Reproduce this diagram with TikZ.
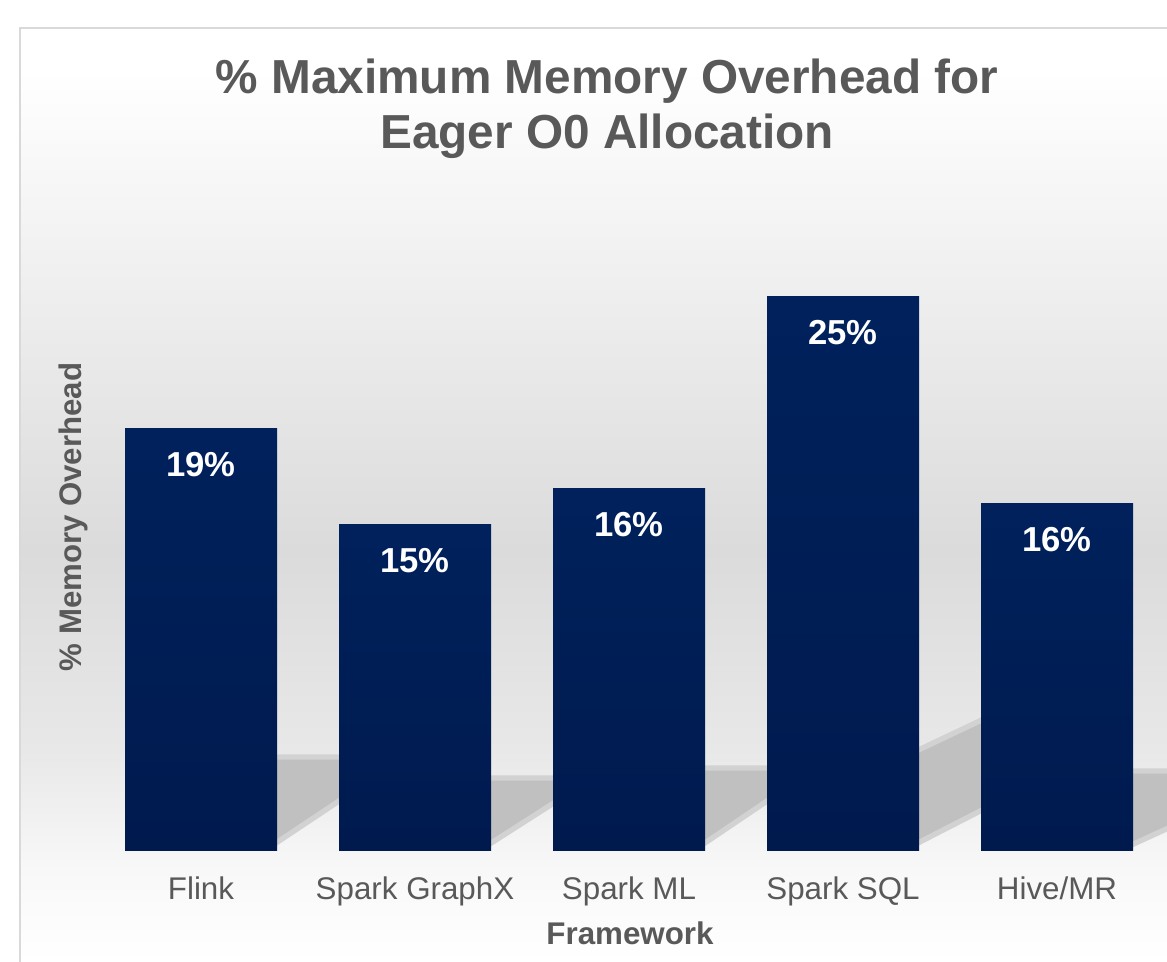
\documentclass[tikz,border=0pt]{standalone}
\usepackage{fontspec}
\setmainfont{Liberation Sans}
\usepackage{xcolor}
\usetikzlibrary{positioning}

\definecolor{barnavy}{HTML}{001D56}
\definecolor{barnavytop}{HTML}{00215C}
\definecolor{barnavybot}{HTML}{001A4E}
\definecolor{textgray}{HTML}{595959}
\definecolor{framegray}{HTML}{D9D9D9}
\definecolor{floorgray}{HTML}{C0C0C0}
\definecolor{bgmid}{HTML}{DBDBDB}
\definecolor{bglow}{HTML}{E8E8E8}
\definecolor{bgfloor}{HTML}{F8F8F8}

\begin{document}
\begin{tikzpicture}[x=0.75pt,y=-0.75pt]
\tikzset{framebar/.style={rectangle,inner sep=0pt,minimum width=114pt,anchor=south,top color=barnavytop,bottom color=barnavybot},
  vallabel/.style={anchor=base,text=white,font=\fontsize{26}{30}\selectfont\bfseries},
  catlabel/.style={anchor=base,text=textgray,font=\fontsize{23.5}{28}\selectfont},
  axislabel/.style={text=textgray,font=\fontsize{23.5}{28}\selectfont\bfseries},
  shadowfloor/.style={fill=floorgray,draw=floorgray!55!bglow,line width=4pt,line join=round}}
\useasboundingbox (0,0) rectangle (1167,962);
\fill[white] (0,0) rectangle (1167,962);
% background of the chart area
\fill[white] (20,28) rectangle (1167,70);
\shade[top color=white,bottom color=bgmid] (20,70) rectangle (1167,550);
\shade[top color=bgmid,bottom color=bglow] (20,550) rectangle (1167,750);
\shade[top color=bglow,bottom color=bgfloor] (20,750) rectangle (1167,870);
\shade[top color=bgfloor,bottom color=white] (20,870) rectangle (1167,962);
% floor shadows between the bars
\filldraw[shadowfloor] (270,757) -- (345,757) -- (345,797) -- (270,847) -- cycle;
\filldraw[shadowfloor] (485,778) -- (560,778) -- (560,799) -- (485,847) -- cycle;
\filldraw[shadowfloor] (699,768) -- (773,768) -- (773,797) -- (699,847) -- cycle;
\filldraw[shadowfloor] (912,753) -- (986,718) -- (986,808) -- (912,846) -- cycle;
\filldraw[shadowfloor] (1127,771) -- (1175,771) -- (1175,825) -- (1127,847) -- cycle;
% frame
\draw[framegray,line width=1.5pt] (20,962) -- (20,28) -- (1167,28);

% title
\node[text=textgray,font=\fontsize{35.8}{41.25}\selectfont\bfseries,align=center] (title) at (607,109) {\% Maximum Memory Overhead for\\Eager O0 Allocation};

% bars
\node[framebar,minimum height=316.5pt] (flink) at (201,851) {};
\node[framebar,minimum height=244.5pt] (graphx) at (415,851) {};
\node[framebar,minimum height=271.5pt] (sparkml) at (629,851) {};
\node[framebar,minimum height=415.5pt] (sparksql) at (843,851) {};
\node[framebar,minimum height=260.25pt] (hivemr) at (1057,851) {};

% values
\node[vallabel] (flinkval) at ([yshift=-36pt]flink.north) {19\%};
\node[vallabel] (graphxval) at ([yshift=-36pt]graphx.north) {15\%};
\node[vallabel] (sparkmlval) at ([yshift=-36pt]sparkml.north) {16\%};
\node[vallabel] (sparksqlval) at ([yshift=-36pt]sparksql.north) {25\%};
\node[vallabel] (hivemrval) at ([yshift=-36pt]hivemr.north) {16\%};

% categories
\node[catlabel] (flinkcat) at ([yshift=-36pt]flink.south) {Flink};
\node[catlabel] (graphxcat) at ([yshift=-36pt]graphx.south) {Spark GraphX};
\node[catlabel] (sparkmlcat) at ([yshift=-36pt]sparkml.south) {Spark ML};
\node[catlabel] (sparksqlcat) at ([yshift=-36pt]sparksql.south) {Spark SQL};
\node[catlabel] (hivemrcat) at ([yshift=-36pt]hivemr.south) {Hive/MR};

% axis titles
\node[axislabel] (xtitle) at (630,933) {Framework};
\node[axislabel,font=\fontsize{23.4}{28}\selectfont\bfseries,rotate=90] (ytitle) at (73,517) {\% Memory Overhead};
\end{tikzpicture}
\end{document}
